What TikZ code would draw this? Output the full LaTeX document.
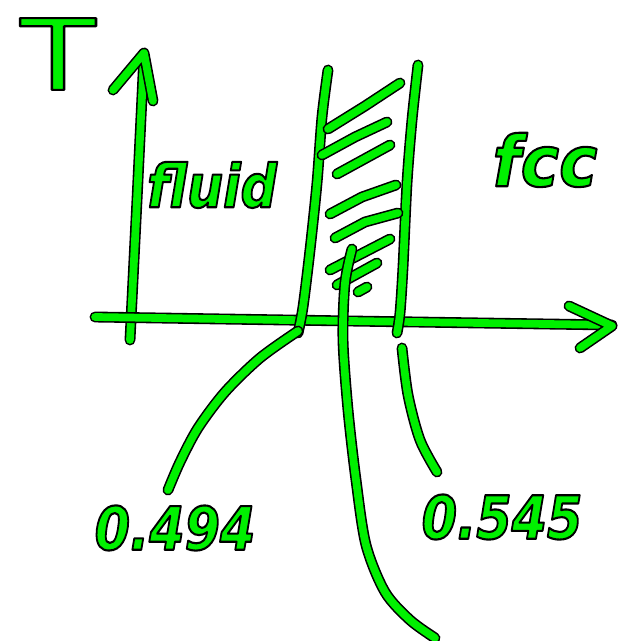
\documentclass[tikz,border=0pt]{standalone}
\usepackage{fontspec}
\setmainfont{DejaVu Sans}
\definecolor{gr}{RGB}{0,240,0}
\tikzset{
  pen/.style={line width=0.9pt, double=gr, double distance=4.4pt,
              line cap=round, line join=round},
  hand/.style={inner sep=0pt, transform shape},
}
% green letters with a thin black outline (fill-and-stroke text mode)
\newcommand{\ink}[1]{\textcolor{gr}{\special{pdf:code 2 Tr 0 0 0 RG 1.2 w 1 j}#1\special{pdf:code 0 Tr}}}
\begin{document}
\begin{tikzpicture}[x=0.02cm, y=-0.02cm]
\useasboundingbox (0,0) rectangle (626,641);

% temperature axis with its arrowhead
\draw[pen] (130,340) -- (137,200) -- (144,55);
\draw[pen] (113,90) -- (144,53) -- (153,101);
% composition axis with its arrowhead
\draw[pen] (95,317) -- (350,321) -- (612,325);
\draw[pen] (569,306) -- (612,326) -- (580,348);

% two-phase band
\draw[pen] plot[smooth] coordinates {(328,70) (322,117) (317,183) (310,250) (303,307) (298,333)};
\draw[pen] plot[smooth] coordinates {(418,65) (412,120) (407,183) (403,267) (400,313) (397,333)};

% hatching inside the band
\draw[pen] (328,129) -- (365,106) -- (400,83);
\draw[pen] (322,155) -- (355,137) -- (387,122);
\draw[pen] (337,174) -- (390,145);
\draw[pen] (330,214) -- (362,197) -- (396,185);
\draw[pen] (335,238) -- (365,222) -- (398,213);
\draw[pen] (330,270) -- (390,239);
\draw[pen] (337,285) -- (377,263);
\draw[pen] (358,292) -- (367,287);

% line through the band down to the bottom
\draw[pen] plot[smooth] coordinates {(352,249) (345,283) (343,340) (348,410) (356,480) (366,545) (385,592) (410,620) (435,638)};

% pointers to the phase boundaries
\draw[pen] plot[smooth] coordinates {(298,331) (260,358) (225,392) (198,428) (180,462) (168,490)};
\draw[pen] plot[smooth] coordinates {(402,348) (408,395) (420,440) (437,472)};

% labels
\node[hand, font=\fontsize{56}{56}\selectfont, xscale=1.25] (lT) at (58,54) {\ink{T}};
\node[hand, font=\fontsize{34}{34}\selectfont\bfseries\itshape, xscale=0.85] (lfl) at (212,185) {\ink{fluid}};
\node[hand, font=\fontsize{40}{40}\selectfont\bfseries\itshape, xscale=0.92] (lfcc) at (545,160) {\ink{fcc}};
\node[hand, font=\fontsize{34}{34}\selectfont\bfseries\itshape, xscale=0.85] (la) at (175,528) {\ink{0.494}};
\node[hand, font=\fontsize{34}{34}\selectfont\bfseries\itshape, xscale=0.85] (lb) at (502,517) {\ink{0.545}};
\end{tikzpicture}
\end{document}
